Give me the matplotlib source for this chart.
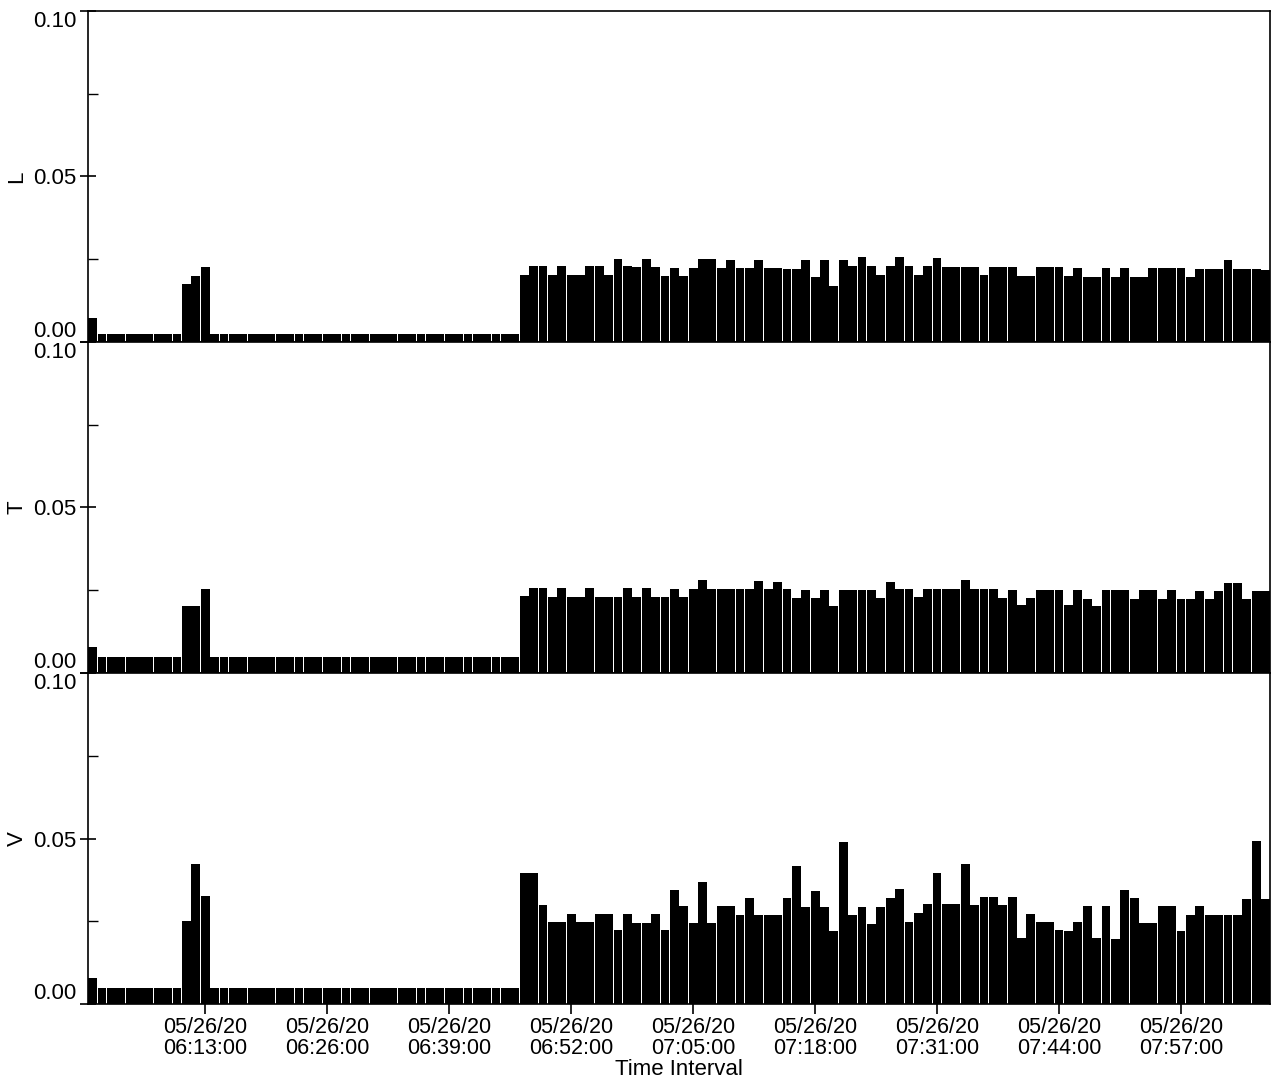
import numpy as np
import matplotlib
matplotlib.use("Agg")
import matplotlib.pyplot as plt

plt.rcParams['font.family'] = ['Liberation Sans', 'DejaVu Sans']

# one bar per minute, minute 1 = 06:01
minute_index = np.arange(1, 127)

tick_minutes = [13, 26, 39, 52, 65, 78, 91, 104, 117]
tick_labels = ["05/26/20\n06:13:00", "05/26/20\n06:26:00", "05/26/20\n06:39:00",
               "05/26/20\n06:52:00", "05/26/20\n07:05:00", "05/26/20\n07:18:00",
               "05/26/20\n07:31:00", "05/26/20\n07:44:00", "05/26/20\n07:57:00"]

panel_names = ["L", "T", "V"]

L_values = [
    0.0072,
    0.0025, 0.0025, 0.0025, 0.0025, 0.0025, 0.0025, 0.0025, 0.0025, 0.0025,
    0.0176, 0.0198, 0.0226,
    0.0025, 0.0025, 0.0025, 0.0025, 0.0025, 0.0025, 0.0025, 0.0025, 0.0025, 0.0025, 0.0025,
    0.0025, 0.0025, 0.0025, 0.0025, 0.0025, 0.0025, 0.0025, 0.0025, 0.0025, 0.0025, 0.0025,
    0.0025, 0.0025, 0.0025, 0.0025, 0.0025, 0.0025, 0.0025, 0.0025, 0.0025, 0.0025, 0.0025,
    0.0203, 0.0228, 0.0228, 0.0201, 0.0228, 0.0201, 0.0201, 0.0228, 0.0228, 0.0201,
    0.0251, 0.0228, 0.0226, 0.0251, 0.0226, 0.0198, 0.0224, 0.0198, 0.0224, 0.0249,
    0.0249, 0.0223, 0.0248, 0.0223, 0.0223, 0.0246, 0.0223, 0.0223, 0.0221, 0.0221,
    0.0246, 0.0196, 0.0246, 0.0169, 0.0246,
    0.0228, 0.0255, 0.0228, 0.0203, 0.0228, 0.0255, 0.0228, 0.0203, 0.0228, 0.0252,
    0.0226, 0.0226, 0.0226, 0.0226, 0.0201, 0.0226, 0.0226, 0.0226, 0.0199, 0.0199,
    0.0226, 0.0226, 0.0226, 0.0199, 0.0224, 0.0197, 0.0197, 0.0224, 0.0197, 0.0224,
    0.0197, 0.0197, 0.0222, 0.0222, 0.0222, 0.0222, 0.0197, 0.0220, 0.0220, 0.0220,
    0.0247, 0.0220, 0.0220, 0.0220, 0.0218,
]

T_values = [
    0.0078,
    0.0048, 0.0048, 0.0048, 0.0048, 0.0048, 0.0048, 0.0048, 0.0048, 0.0048,
    0.0202, 0.0202, 0.0253,
    0.0048, 0.0048, 0.0048, 0.0048, 0.0048, 0.0048, 0.0048, 0.0048, 0.0048, 0.0048, 0.0048,
    0.0048, 0.0048, 0.0048, 0.0048, 0.0048, 0.0048, 0.0048, 0.0048, 0.0048, 0.0048, 0.0048,
    0.0048, 0.0048, 0.0048, 0.0048, 0.0048, 0.0048, 0.0048, 0.0048, 0.0048, 0.0048, 0.0048,
    0.0233, 0.0257, 0.0257, 0.0231, 0.0257, 0.0231, 0.0231, 0.0257, 0.0231, 0.0231,
    0.0231, 0.0257, 0.0231, 0.0257, 0.0231, 0.0229, 0.0255, 0.0229, 0.0255, 0.0280,
    0.0255, 0.0255, 0.0255, 0.0255, 0.0255, 0.0278, 0.0253, 0.0276, 0.0253, 0.0228,
    0.0252, 0.0228, 0.0252, 0.0202, 0.0252, 0.0252, 0.0250, 0.0250, 0.0226, 0.0275,
    0.0255, 0.0255, 0.0231, 0.0255, 0.0255, 0.0255, 0.0255, 0.0280, 0.0255, 0.0253,
    0.0253, 0.0228, 0.0252, 0.0205, 0.0228, 0.0252, 0.0252, 0.0252, 0.0205, 0.0252,
    0.0225, 0.0202, 0.0252, 0.0250, 0.0250, 0.0223, 0.0250, 0.0250, 0.0223, 0.0250,
    0.0223, 0.0223, 0.0247, 0.0223, 0.0247, 0.0272, 0.0272, 0.0223, 0.0247, 0.0247,
]

V_values = [
    0.0079,
    0.0050, 0.0050, 0.0050, 0.0050, 0.0050, 0.0050, 0.0050, 0.0050, 0.0050,
    0.0252, 0.0424, 0.0325,
    0.0050, 0.0050, 0.0050, 0.0050, 0.0050, 0.0050, 0.0050, 0.0050, 0.0050, 0.0050, 0.0050,
    0.0050, 0.0050, 0.0050, 0.0050, 0.0050, 0.0050, 0.0050, 0.0050, 0.0050, 0.0050, 0.0050,
    0.0050, 0.0050, 0.0050, 0.0050, 0.0050, 0.0050, 0.0050, 0.0050, 0.0050, 0.0050, 0.0050,
    0.0397, 0.0397, 0.0300, 0.0248, 0.0248, 0.0273, 0.0248, 0.0248, 0.0271, 0.0271,
    0.0223, 0.0271, 0.0246, 0.0246, 0.0271, 0.0223, 0.0345, 0.0296, 0.0246, 0.0368,
    0.0245, 0.0295, 0.0295, 0.0270, 0.0319, 0.0270, 0.0270, 0.0270, 0.0319, 0.0416,
    0.0293, 0.0343, 0.0293, 0.0220, 0.0491, 0.0268, 0.0293, 0.0243, 0.0293, 0.0320,
    0.0349, 0.0249, 0.0275, 0.0301, 0.0397, 0.0301, 0.0301, 0.0424, 0.0298, 0.0324,
    0.0324, 0.0298, 0.0323, 0.0199, 0.0273, 0.0249, 0.0247, 0.0223, 0.0222, 0.0247,
    0.0297, 0.0199, 0.0297, 0.0197, 0.0346, 0.0320, 0.0246, 0.0246, 0.0295, 0.0295,
    0.0221, 0.0270, 0.0295, 0.0269, 0.0269, 0.0269, 0.0269, 0.0318, 0.0492, 0.0318,
]


def style_panel(ax, name, show_x):
    ax.set_xlim(0.5, 126.5)
    ax.set_ylim(0, 0.1)
    ax.set_yticks([0.0, 0.05, 0.1])
    ax.set_yticklabels(["0.00", "0.05", "0.10"], fontsize=16)
    ax.set_yticks([0.025, 0.075], minor=True)
    ax.tick_params(axis='y', which='major', direction='inout', length=12, width=1.2, pad=2)
    ax.tick_params(axis='y', which='minor', direction='in', length=7, width=1.0)
    labels = ax.get_yticklabels()
    labels[0].set_verticalalignment('bottom')
    labels[2].set_verticalalignment('top')
    ax.set_ylabel(name, fontsize=16)
    ax.yaxis.set_label_coords(-0.051, 0.5)
    for sp in ax.spines.values():
        sp.set_linewidth(1.2)
    if show_x:
        ax.set_xticks(tick_minutes)
        ax.set_xticklabels(tick_labels, fontsize=15.5, linespacing=1.0)
        ax.tick_params(axis='x', direction='out', length=7, width=1.2, pad=2)
    else:
        ax.set_xticks([])


def main():
    fig, axes = plt.subplots(3, 1, figsize=(12.74, 10.82), dpi=100, sharex=False)
    fig.subplots_adjust(left=0.069, right=0.997, top=0.990, bottom=0.072, hspace=0)

    series = [L_values, T_values, V_values]
    for i, (ax, name, vals) in enumerate(zip(axes, panel_names, series)):
        ax.bar(minute_index, vals, width=0.94, color='black', linewidth=0)
        style_panel(ax, name, show_x=(i == 2))

    # x label sits right under the date/time tick labels, at the bottom edge
    pos = axes[2].get_position()
    fig.text((pos.x0 + pos.x1) / 2, 0.002, "Time Interval", fontsize=16,
             ha='center', va='bottom')

    fig.savefig("out.png", dpi=100)


if __name__ == "__main__":
    main()
